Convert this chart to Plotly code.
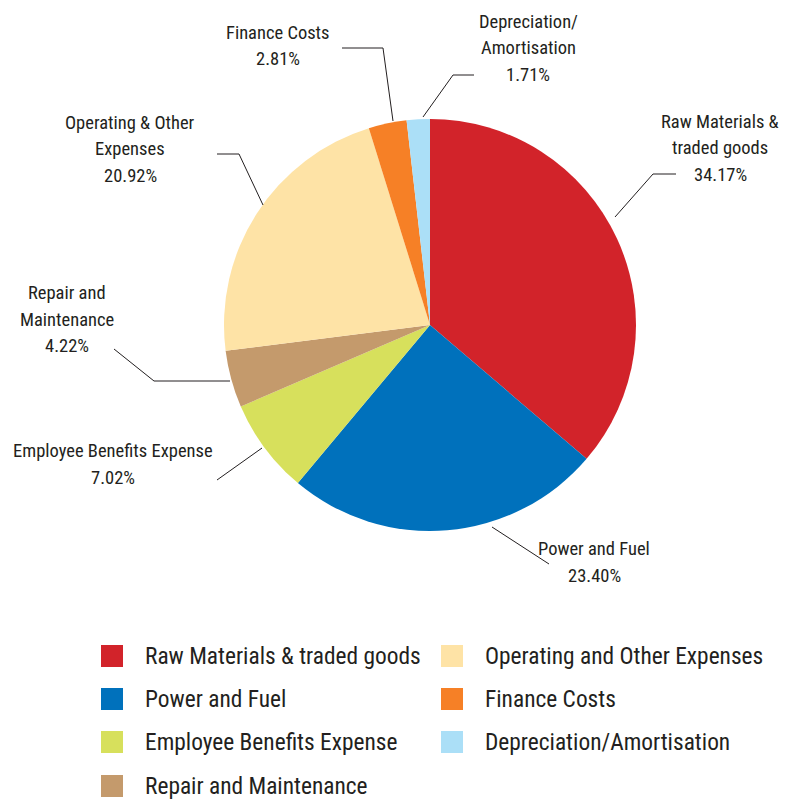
import plotly.graph_objects as go

# ---- data ----
categories = ["Raw Materials & traded goods", "Power and Fuel", "Employee Benefits Expense",
              "Repair and Maintenance", "Operating and Other Expenses", "Finance Costs",
              "Depreciation/Amortisation"]
values = [34.17, 23.40, 7.02, 4.22, 20.92, 2.81, 1.71]
pie_labels = [["Raw Materials &", "traded goods"], ["Power and Fuel"], ["Employee Benefits Expense"],
              ["Repair and", "Maintenance"], ["Operating & Other", "Expenses"], ["Finance Costs"],
              ["Depreciation/", "Amortisation"]]
colors = ["#D2232A", "#0071BC", "#D7E05C", "#C49A6C", "#FEE3A6", "#F68026", "#ABDFF7"]

# ---- layout helpers (page pixels -> paper; page body has an 8px margin) ----
OFF = 8
W, H = 788 - OFF, 803 - OFF
def fx(x): return (x - OFF) / W
def fy(y): return 1 - (y - OFF) / H

FONT = "Liberation Sans Narrow, Roboto Condensed, DejaVu Sans Condensed, Arial Narrow, sans-serif"
TXT = "#231F20"

# pie geometry (page pixels)
cx, cy, r = 430, 325, 206

fig = go.Figure()
fig.add_trace(go.Pie(
    labels=categories, values=values, sort=False, direction="clockwise", rotation=0,
    marker=dict(colors=colors, line=dict(width=0)),
    textinfo="none", hoverinfo="label+text", text=[f"{v:.2f}%" for v in values],
    showlegend=False,
    domain=dict(x=[fx(cx - r), fx(cx + r)], y=[fy(cy + r), fy(cy - r)]),
))

# label placement: (center x, first-line y) and leader polyline points (page pixels)
label_pos = [(720, 122), (594, 549), (113, 451), (67, 293), (130, 123), (278, 33), (528, 22)]
leaders = [
    [(615, 217), (653, 174), (676, 174)],
    [(492, 527), (549, 564)],
    [(262, 448), (217, 480)],
    [(114, 349), (154, 381), (230, 381)],
    [(217, 154), (239, 154), (263, 205)],
    [(342, 48), (383, 48), (393, 121)],
    [(423, 117), (453, 75), (474, 75)],
]
LINE_STEP = 26.5
annotations = []
shapes = []
for lines, v, (lx, ly) in zip(pie_labels, values, label_pos):
    for i, t in enumerate(lines + [f"{v:.2f}%"]):
        annotations.append(dict(x=fx(lx), y=fy(ly + i * LINE_STEP), xref="paper", yref="paper",
                                text=t, showarrow=False, xanchor="center", yanchor="middle",
                                font=dict(family=FONT, size=18.5, color=TXT)))
for pts in leaders:
    path = "M " + " L ".join(f"{fx(x)},{fy(y)}" for x, y in pts)
    shapes.append(dict(type="path", path=path, xref="paper", yref="paper",
                       line=dict(color="#231F20", width=1)))

# legend (2 columns, column-major)
col_x = [101, 441]
row_y = [656, 699, 742, 786]
for k, (name, c) in enumerate(zip(categories, colors)):
    col = 0 if k < 4 else 1
    row = k if k < 4 else k - 4
    x0, yc = col_x[col], row_y[row]
    shapes.append(dict(type="rect", xref="paper", yref="paper",
                       x0=fx(x0), x1=fx(x0 + 22), y0=fy(yc + 11), y1=fy(yc - 11),
                       fillcolor=c, line=dict(width=0)))
    annotations.append(dict(x=fx(x0 + 42), y=fy(yc), xref="paper", yref="paper", text=name,
                            showarrow=False, xanchor="left", yanchor="middle",
                            font=dict(family=FONT, size=23.4, color=TXT)))

fig.update_layout(width=W, height=H, autosize=False, margin=dict(l=0, r=0, t=0, b=0),
                  paper_bgcolor="white", plot_bgcolor="white",
                  annotations=annotations, shapes=shapes)
fig.write_html("out.html")
